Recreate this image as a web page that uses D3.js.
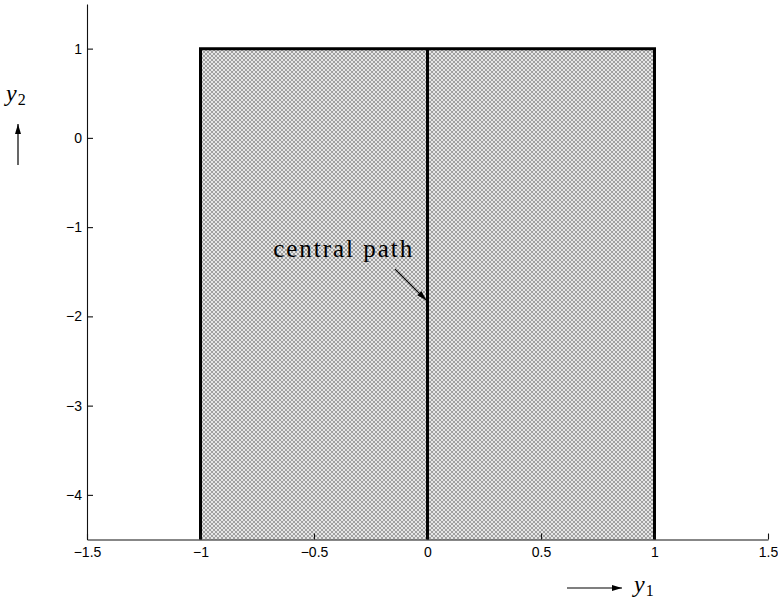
<!DOCTYPE html>
<html>
<head>
<meta charset="utf-8">
<script src="https://cdn.jsdelivr.net/npm/d3@7"></script>
<style>
  html, body { margin: 0; padding: 0; background: #fff; }
  svg { display: block; }
  .tick text { font-family: "Liberation Sans", Arial, sans-serif; font-size: 14px; fill: #000; }
  .axis path, .axis line { stroke: #111; stroke-width: 1.1; }
</style>
</head>
<body>
<svg id="chart" width="778" height="601"></svg>
<script>
// Axis ranges and tick values
const xDomain = [-1.5, 1.5];
const yDomain = [-4.5, 1.5];
const xTicks = [-1.5, -1, -0.5, 0, 0.5, 1, 1.5];
const yTicks = [-4, -3, -2, -1, 0, 1];

// Feasible strip: -1 <= y1 <= 1, y2 <= 1
const regionY1 = [-1, 1];
const regionY2 = [-4.5, 1];

// Central path: the vertical line y1 = 0
const centralPathY1 = [0, 0];
const centralPathY2 = [-4.5, 1];

// Annotation: label position and arrow (from -> to), in data units
const annotLabel = "central path";
const annotText = [-0.68, -1.33];
const annotFrom = [-0.143, -1.47];
const annotTo = [-0.005, -1.82];

const svg = d3.select("#chart");
const x = d3.scaleLinear().domain(xDomain).range([87, 768]);
const y = d3.scaleLinear().domain(yDomain).range([539.5, 4]);

// Halftone-like crosshatch fill
const defs = svg.append("defs");
const pat = defs.append("pattern")
  .attr("id", "hatch")
  .attr("patternUnits", "userSpaceOnUse")
  .attr("width", 4).attr("height", 4);
pat.append("rect").attr("width", 4).attr("height", 4).attr("fill", "#e6e6e6");
const darkPx = [[0,0],[1,1],[2,2],[3,3],[3,0],[2,1],[1,2],[0,3]];
pat.selectAll("rect.px").data(darkPx).join("rect")
  .attr("class", "px")
  .attr("x", d => d[0]).attr("y", d => d[1])
  .attr("width", 1).attr("height", 1)
  .attr("fill", "#a0a0a0")
  .attr("shape-rendering", "crispEdges");

defs.append("marker")
  .attr("id", "head")
  .attr("viewBox", "0 0 10 6")
  .attr("refX", 10).attr("refY", 3)
  .attr("markerWidth", 10).attr("markerHeight", 6)
  .attr("markerUnits", "userSpaceOnUse")
  .attr("orient", "auto")
  .append("path").attr("d", "M0,0 L10,3 L0,6 Z").attr("fill", "#000");

// Shaded region
svg.append("rect")
  .attr("x", x(regionY1[0]))
  .attr("y", y(regionY2[1]))
  .attr("width", x(regionY1[1]) - x(regionY1[0]))
  .attr("height", y(regionY2[0]) - y(regionY2[1]))
  .attr("fill", "url(#hatch)");

// Region boundary (left, top, right edges)
const edge = d3.line();
svg.append("path")
  .attr("d", edge([
    [x(regionY1[0]), y(regionY2[0])],
    [x(regionY1[0]), y(regionY2[1])],
    [x(regionY1[1]), y(regionY2[1])],
    [x(regionY1[1]), y(regionY2[0])]
  ]))
  .attr("fill", "none").attr("stroke", "#000").attr("stroke-width", 3)
  .attr("stroke-linejoin", "miter");

// Central path
svg.append("line")
  .attr("x1", x(centralPathY1[0])).attr("y1", y(centralPathY2[0]))
  .attr("x2", x(centralPathY1[1])).attr("y2", y(centralPathY2[1]))
  .attr("stroke", "#000").attr("stroke-width", 3);

// Axes with inward ticks
const fmt = d => d3.format("")(d).replace("-", "\u2212");
const xAxis = d3.axisBottom(x).tickValues(xTicks).tickSizeInner(-6).tickSizeOuter(0).tickPadding(8)
  .tickFormat(fmt);
const yAxis = d3.axisLeft(y).tickValues(yTicks).tickSizeInner(-6).tickSizeOuter(0).tickPadding(5)
  .tickFormat(fmt);

svg.append("g").attr("class", "axis")
  .attr("transform", `translate(0,${y(yDomain[0])})`)
  .call(xAxis);
svg.append("g").attr("class", "axis")
  .attr("transform", `translate(${x(xDomain[0])},0)`)
  .call(yAxis);

// Annotation
svg.append("text")
  .attr("x", x(annotText[0])).attr("y", y(annotText[1]))
  .attr("font-family", "'Liberation Serif', 'DejaVu Serif', serif")
  .attr("font-size", 25)
  .attr("textLength", 139).attr("lengthAdjust", "spacing")
  .text(annotLabel);
svg.append("line")
  .attr("x1", x(annotFrom[0])).attr("y1", y(annotFrom[1]))
  .attr("x2", x(annotTo[0])).attr("y2", y(annotTo[1]))
  .attr("stroke", "#000").attr("stroke-width", 1.2)
  .attr("marker-end", "url(#head)");

// Axis labels with direction arrows
function mathLabel(px, py, sub) {
  const t = svg.append("text")
    .attr("x", px).attr("y", py)
    .attr("font-family", "'Liberation Serif', 'DejaVu Serif', serif")
    .attr("font-size", 24);
  t.append("tspan").attr("font-style", "italic").text("y");
  t.append("tspan").attr("font-size", 16).attr("dx", 1).attr("dy", 4).text(sub);
}
mathLabel(6, 101, "2");
mathLabel(634, 592, "1");

svg.append("line")
  .attr("x1", 18).attr("y1", 165).attr("x2", 18).attr("y2", 124)
  .attr("stroke", "#000").attr("stroke-width", 1.2)
  .attr("marker-end", "url(#head)");
svg.append("line")
  .attr("x1", 567).attr("y1", 588).attr("x2", 622).attr("y2", 588)
  .attr("stroke", "#000").attr("stroke-width", 1.2)
  .attr("marker-end", "url(#head)");
</script>
</body>
</html>
